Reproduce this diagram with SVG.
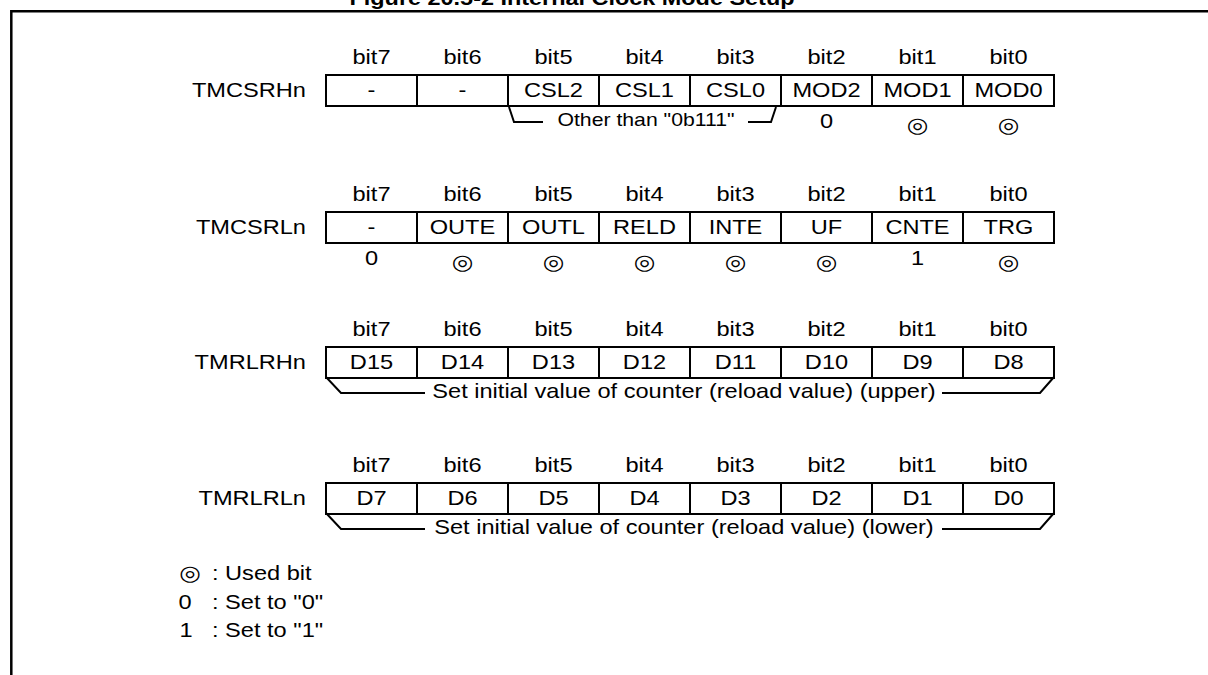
<svg xmlns="http://www.w3.org/2000/svg" width="1208" height="675" viewBox="0 0 1208 675">
<style>
.t{font-family:"Liberation Sans",Arial,sans-serif;font-size:20px;fill:#000}
.m{text-anchor:middle}
.e{text-anchor:end}
.s{font-size:18px}
.sym{font-family:"DejaVu Sans",sans-serif;font-size:21px;text-anchor:middle}
.cell{fill:none;stroke:#000;stroke-width:2}
.br{fill:none;stroke:#000;stroke-width:2}
</style>
<defs>
<g id="cells">
<rect class="cell" x="326" y="0" width="728" height="31"/>
<path class="cell" d="M417,0V31M508,0V31M599,0V31M690,0V31M781,0V31M872,0V31M963,0V31"/>
</g>
</defs>
<rect width="1208" height="675" fill="#fff"/>
<text x="572" y="5" text-anchor="middle" textLength="445" lengthAdjust="spacingAndGlyphs" style="font-family:'Liberation Sans',Arial,sans-serif;font-size:20px;font-weight:bold">Figure 20.5-2 Internal Clock Mode Setup</text>
<polyline points="11.3,675 11.3,11.3 1208,11.3" fill="none" stroke="#000" stroke-width="2.5"/>

<g id="TMCSRHn">
<use href="#cells" y="75"/>
<g transform="scale(1.18,1)" class="t">
<text class="e" x="259.3" y="97">TMCSRHn</text>
<g class="m">
<text x="314.83" y="64">bit7</text><text x="391.95" y="64">bit6</text><text x="469.07" y="64">bit5</text><text x="546.19" y="64">bit4</text><text x="623.31" y="64">bit3</text><text x="700.42" y="64">bit2</text><text x="777.54" y="64">bit1</text><text x="854.66" y="64">bit0</text>
<text x="314.83" y="97">-</text><text x="391.95" y="97">-</text><text x="469.07" y="97">CSL2</text><text x="546.19" y="97">CSL1</text><text x="623.31" y="97">CSL0</text><text x="700.42" y="97">MOD2</text><text x="777.54" y="97">MOD1</text><text x="854.66" y="97">MOD0</text>
<text class="s" x="547.46" y="126">Other than "0b111"</text>
<text x="700.42" y="128">0</text>
</g>
<text class="sym" x="777.54" y="132">◎</text><text class="sym" x="854.66" y="132">◎</text>
</g>
</g>

<g id="TMCSRLn">
<use href="#cells" y="212"/>
<g transform="scale(1.18,1)" class="t">
<text class="e" x="259.3" y="234">TMCSRLn</text>
<g class="m">
<text x="314.83" y="201">bit7</text><text x="391.95" y="201">bit6</text><text x="469.07" y="201">bit5</text><text x="546.19" y="201">bit4</text><text x="623.31" y="201">bit3</text><text x="700.42" y="201">bit2</text><text x="777.54" y="201">bit1</text><text x="854.66" y="201">bit0</text>
<text x="314.83" y="234">-</text><text x="391.95" y="234">OUTE</text><text x="469.07" y="234">OUTL</text><text x="546.19" y="234">RELD</text><text x="623.31" y="234">INTE</text><text x="700.42" y="234">UF</text><text x="777.54" y="234">CNTE</text><text x="854.66" y="234">TRG</text>
<text x="314.83" y="265">0</text><text x="777.54" y="265">1</text>
</g>
<text class="sym" x="391.95" y="269">◎</text><text class="sym" x="469.07" y="269">◎</text><text class="sym" x="546.19" y="269">◎</text><text class="sym" x="623.31" y="269">◎</text><text class="sym" x="700.42" y="269">◎</text><text class="sym" x="854.66" y="269">◎</text>
</g>
</g>

<g id="TMRLRHn">
<use href="#cells" y="347"/>
<g transform="scale(1.18,1)" class="t">
<text class="e" x="259.3" y="369">TMRLRHn</text>
<g class="m">
<text x="314.83" y="336">bit7</text><text x="391.95" y="336">bit6</text><text x="469.07" y="336">bit5</text><text x="546.19" y="336">bit4</text><text x="623.31" y="336">bit3</text><text x="700.42" y="336">bit2</text><text x="777.54" y="336">bit1</text><text x="854.66" y="336">bit0</text>
<text x="314.83" y="369">D15</text><text x="391.95" y="369">D14</text><text x="469.07" y="369">D13</text><text x="546.19" y="369">D12</text><text x="623.31" y="369">D11</text><text x="700.42" y="369">D10</text><text x="777.54" y="369">D9</text><text x="854.66" y="369">D8</text>
<text x="579.66" y="398">Set initial value of counter (reload value) (upper)</text>
</g>
</g>
</g>

<g id="TMRLRLn">
<use href="#cells" y="483"/>
<g transform="scale(1.18,1)" class="t">
<text class="e" x="259.3" y="505">TMRLRLn</text>
<g class="m">
<text x="314.83" y="472">bit7</text><text x="391.95" y="472">bit6</text><text x="469.07" y="472">bit5</text><text x="546.19" y="472">bit4</text><text x="623.31" y="472">bit3</text><text x="700.42" y="472">bit2</text><text x="777.54" y="472">bit1</text><text x="854.66" y="472">bit0</text>
<text x="314.83" y="505">D7</text><text x="391.95" y="505">D6</text><text x="469.07" y="505">D5</text><text x="546.19" y="505">D4</text><text x="623.31" y="505">D3</text><text x="700.42" y="505">D2</text><text x="777.54" y="505">D1</text><text x="854.66" y="505">D0</text>
<text x="579.66" y="534">Set initial value of counter (reload value) (lower)</text>
</g>
</g>
</g>

<g id="connectors">
<path class="br" d="M509,107L514,122H543M748,122H771L776,107"/>
<path class="br" d="M326,377L341,393H425M942,393H1040L1054,377"/>
<path class="br" d="M326,513L341,529H425M942,529H1040L1054,513"/>
</g>

<g id="legend">
<g transform="scale(1.18,1)" class="t">
<text class="sym" x="161" y="580">◎</text>
<text x="179.66" y="580">: Used bit</text>
<text class="m" x="156.8" y="609">0</text>
<text x="179.66" y="609">: Set to "0"</text>
<text class="m" x="157.6" y="637">1</text>
<text x="179.66" y="637">: Set to "1"</text>
</g>
</g>
</svg>
